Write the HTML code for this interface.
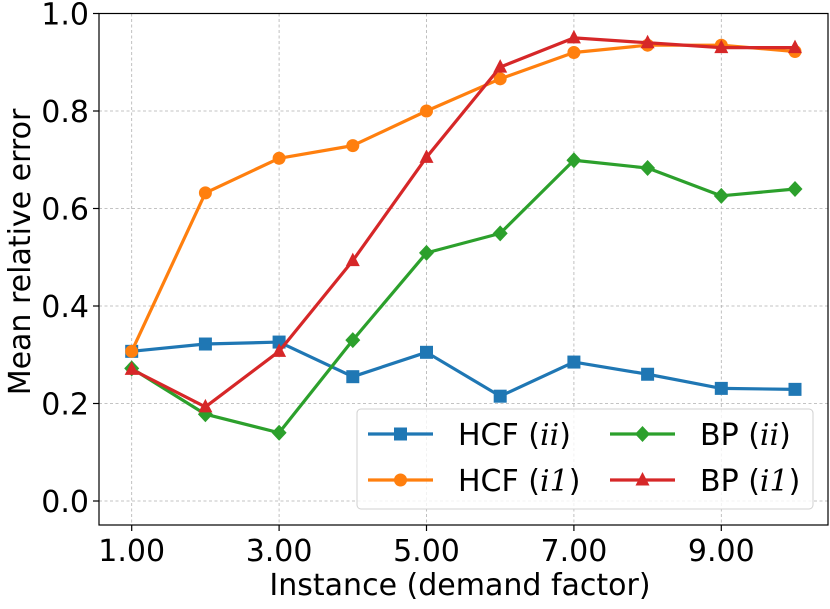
<!DOCTYPE html>
<html><head><meta charset="utf-8"><style>
body{margin:0;background:#fff;font-family:"DejaVu Sans","Liberation Sans",sans-serif;}
svg text{font-family:"DejaVu Sans","Liberation Sans",sans-serif;}
</style></head><body>
<svg id="chart" width="830" height="605" xmlns="http://www.w3.org/2000/svg"></svg>
<script>
const xValues=[1,2,3,4,5,6,7,8,9,10];
const hcfII=[0.307,0.322,0.326,0.255,0.305,0.215,0.285,0.260,0.231,0.229];
const hcfI1=[0.307,0.632,0.703,0.729,0.800,0.866,0.920,0.935,0.935,0.922];
const bpII=[0.272,0.178,0.140,0.330,0.509,0.549,0.699,0.683,0.626,0.640];
const bpI1=[0.270,0.193,0.307,0.493,0.705,0.890,0.950,0.940,0.930,0.930];
const xTicks=[1,3,5,7,9];
const xTickLabels=["1.00","3.00","5.00","7.00","9.00"];
const yTicks=[0,0.2,0.4,0.6,0.8,1.0];
const yTickLabels=["0.0","0.2","0.4","0.6","0.8","1.0"];
const NS="http://www.w3.org/2000/svg";
const svg=document.getElementById('chart');
const L=99,R=828,T=13.5,B=525;
const sx=v=>131.7+(v-1)*73.7;
const sy=v=>501-v*487.5;
function mk(tag,attrs,parent){const e=document.createElementNS(NS,tag);for(const k in attrs)e.setAttribute(k,attrs[k]);(parent||svg).appendChild(e);return e;}
const grid=mk('g',{});


xTicks.forEach((t,i)=>{
  mk('line',{x1:sx(t),x2:sx(t),y1:T,y2:B,stroke:'#b0b0b0','stroke-width':0.8,'stroke-dasharray':'3,2.5'},grid);
  mk('line',{x1:sx(t),x2:sx(t),y1:B,y2:B+6,stroke:'#000','stroke-width':1.2});
  const tx=mk('text',{x:sx(t),y:B+36,'text-anchor':'middle','font-size':30});
  
  
  tx.textContent=xTickLabels[i];
});
yTicks.forEach((t,i)=>{
  mk('line',{x1:L,x2:R,y1:sy(t),y2:sy(t),stroke:'#b0b0b0','stroke-width':0.8,'stroke-dasharray':'3,2.5'},grid);
  mk('line',{x1:L-6,x2:L,y1:sy(t),y2:sy(t),stroke:'#000','stroke-width':1.2});
  const tx=mk('text',{x:L-10,y:sy(t)+11,'text-anchor':'end','font-size':30});
  
  
  tx.textContent=yTickLabels[i];
});
function marker(type,x,y,c,p){
  if(type==='s')return mk('rect',{x:x-6.5,y:y-6.5,width:13,height:13,fill:c},p);
  if(type==='o')return mk('circle',{cx:x,cy:y,r:6.5,fill:c},p);
  if(type==='d')return mk('polygon',{points:`${x},${y-8} ${x+7.5},${y} ${x},${y+8} ${x-7.5},${y}`,fill:c},p);
  return mk('polygon',{points:`${x},${y-8} ${x+7},${y+5.5} ${x-7},${y+5.5}`,fill:c},p);
}
const series=[[hcfII,'#1f77b4','s','series-hcf-ii'],[hcfI1,'#ff7f0e','o','series-hcf-i1'],[bpII,'#2ca02c','d','series-bp-ii'],[bpI1,'#d62728','^','series-bp-i1']];
series.forEach(([d,c,m,n])=>{
  const g=mk('g',{});
  
  
  mk('polyline',{points:d.map((v,i)=>sx(xValues[i])+','+sy(v)).join(' '),fill:'none',stroke:c,'stroke-width':3.2,'stroke-linejoin':'round'},g);
  d.forEach((v,i)=>{const p=marker(m,sx(xValues[i]),sy(v),c,g);});
});
const frame=mk('rect',{x:L,y:T,width:R-L,height:B-T,fill:'none',stroke:'#000','stroke-width':1.2});


const lg=mk('g',{});


mk('rect',{x:357,y:409,width:456,height:100,rx:4,fill:'#fff','fill-opacity':0.8,stroke:'#d0d0d0','stroke-width':1},lg);
const items=[['HCF (','ii',')',0,0],['HCF (','i1',')',1,0],['BP (','ii',')',2,1],['BP (','i1',')',3,1]];
items.forEach(([a,b,c2,si,col],k)=>{
  const row=k%2;const x0=col?610:368;const y=434+row*46;
  const [,clr,m]=series[si];
  mk('line',{x1:x0,x2:x0+65,y1:y,y2:y,stroke:clr,'stroke-width':3.2},lg);
  marker(m,x0+32.5,y,clr,lg);
  const t=mk('text',{x:x0+90,y:y+11,'font-size':30},lg);
  
  
  t.innerHTML=a+'<tspan font-family="DejaVu Serif,Liberation Serif,serif" font-style="italic">'+b+'</tspan>'+c2;
});
const xt=mk('text',{x:460,y:595,'text-anchor':'middle','font-size':30});


xt.textContent='Instance (demand factor)';
const yt=mk('text',{x:0,y:0,'text-anchor':'middle','font-size':30,transform:`translate(30,252) rotate(-90)`});


yt.textContent='Mean relative error';
</script>
</body></html>
